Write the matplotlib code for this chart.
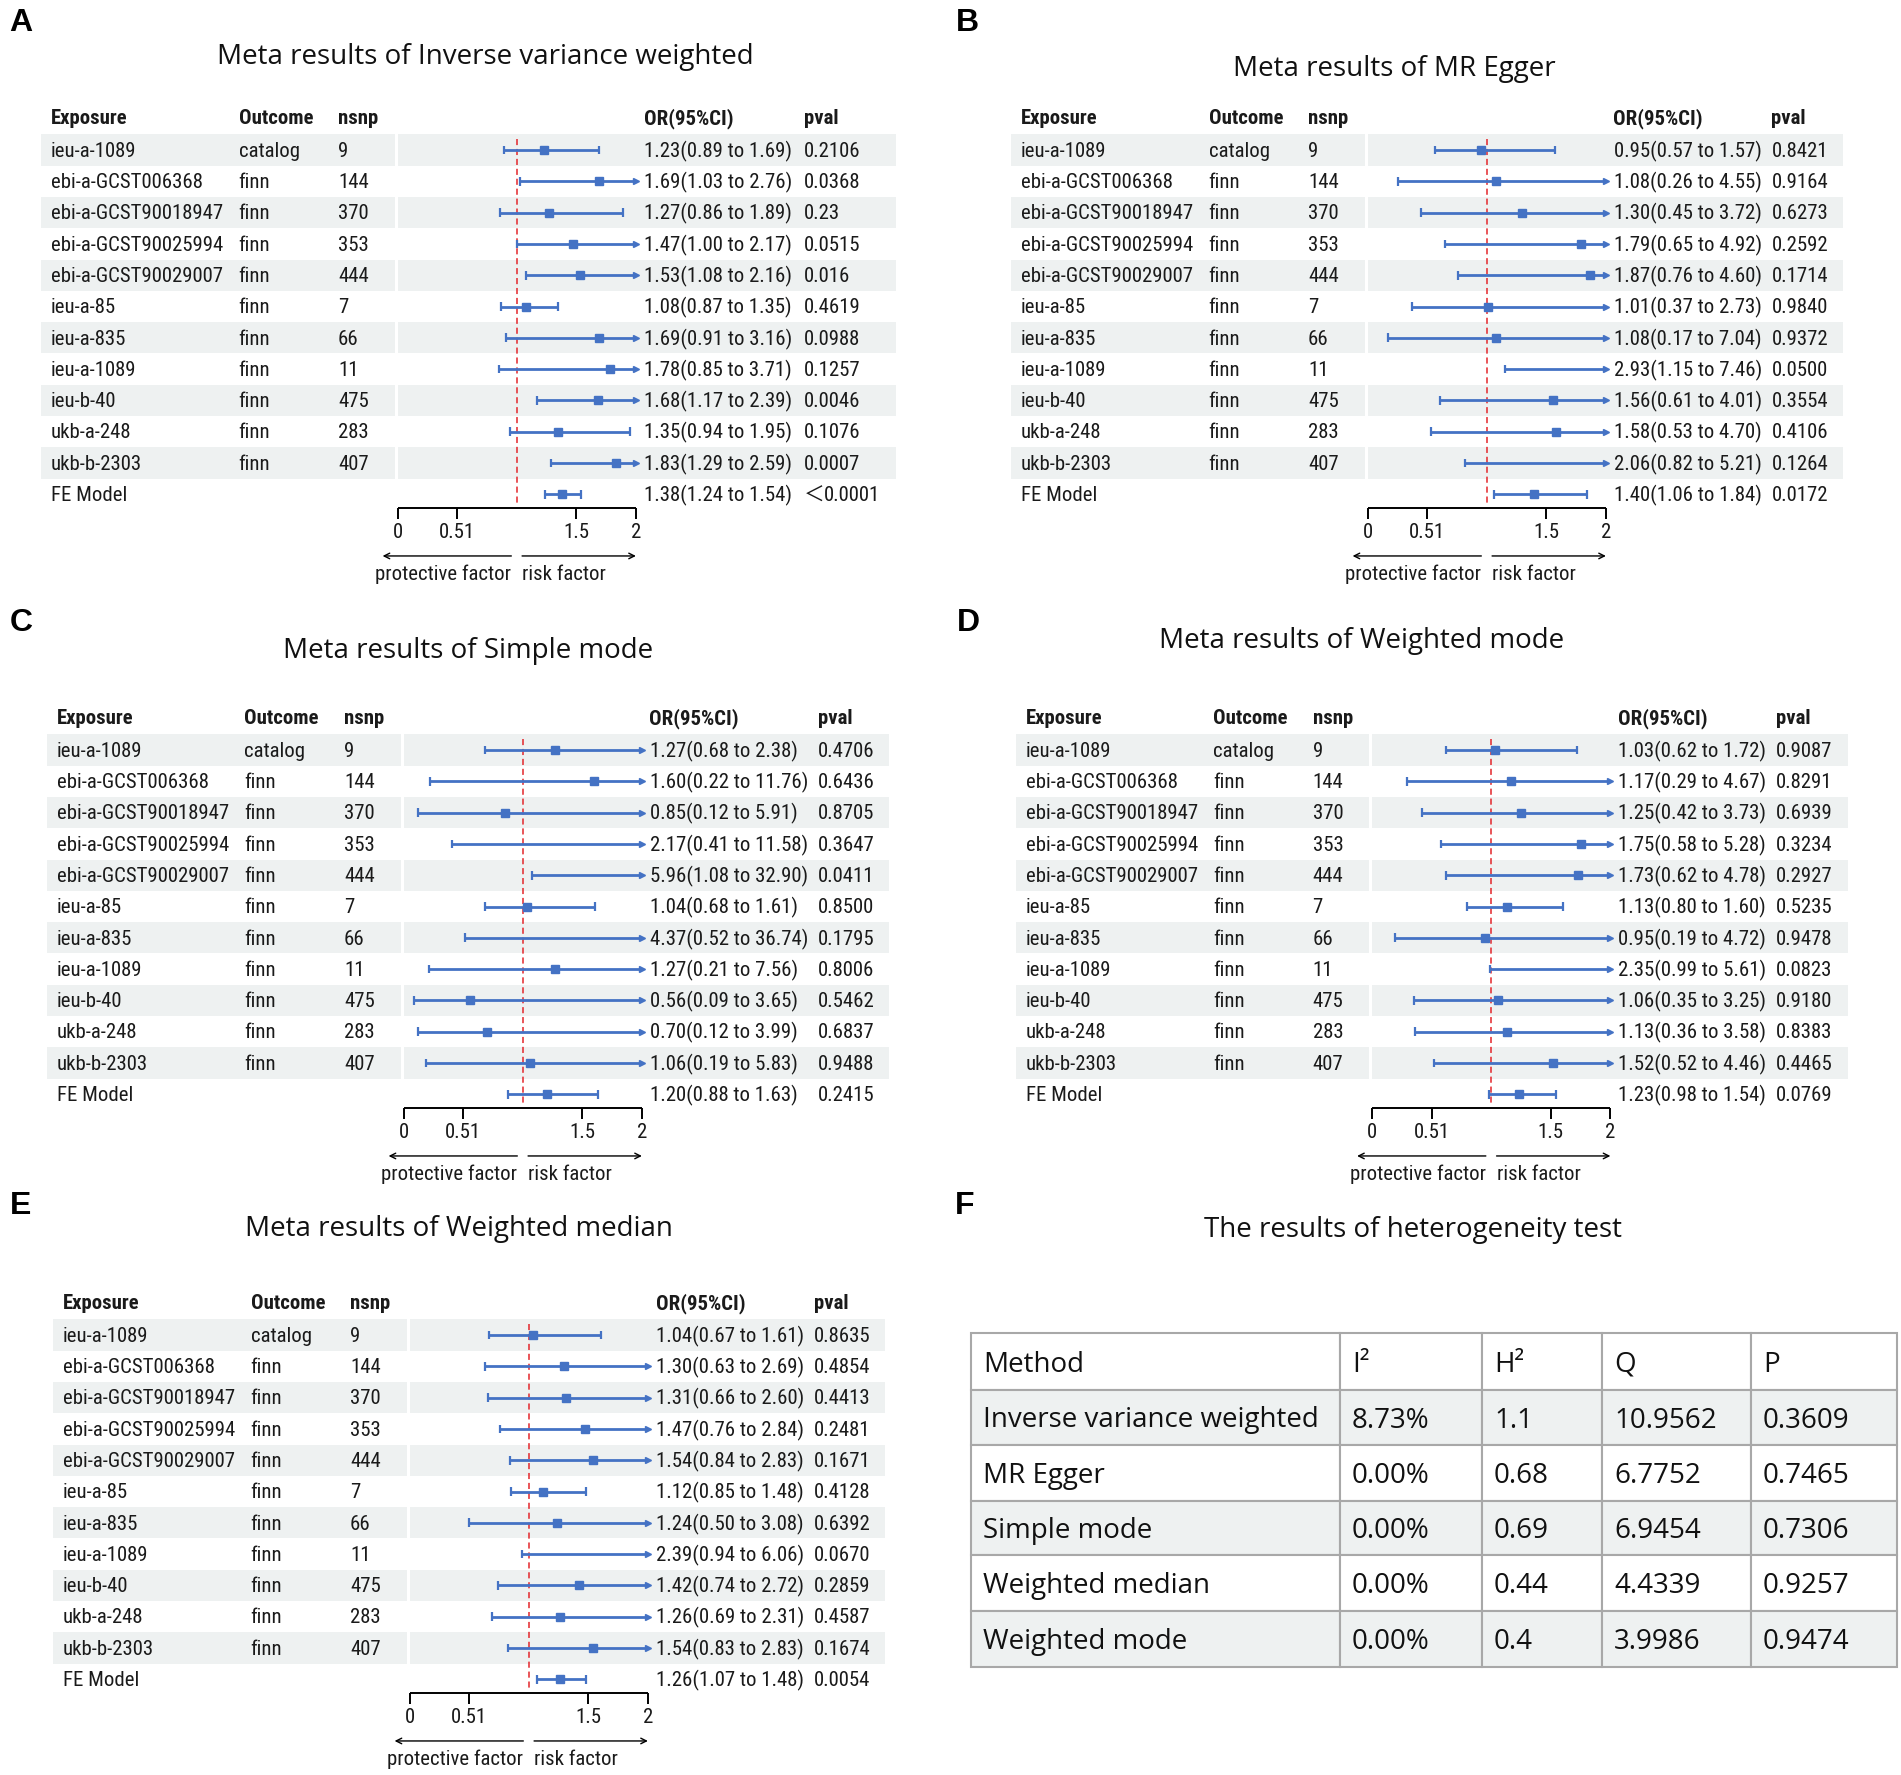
import os
import numpy as np
import matplotlib
matplotlib.use('Agg')
import matplotlib.pyplot as plt
from matplotlib import font_manager as fm
from matplotlib.font_manager import FontProperties
from matplotlib.textpath import TextPath
from matplotlib.patches import Rectangle

W, H = 1901, 1775

# ---- data ----
exposure = ['ieu-a-1089', 'ebi-a-GCST006368', 'ebi-a-GCST90018947', 'ebi-a-GCST90025994',
            'ebi-a-GCST90029007', 'ieu-a-85', 'ieu-a-835', 'ieu-a-1089', 'ieu-b-40',
            'ukb-a-248', 'ukb-b-2303', 'FE Model']
outcome = ['catalog'] + ['finn'] * 10 + ['']
nsnp = ['9', '144', '370', '353', '444', '7', '66', '11', '475', '283', '407', '']

ivw_or = [1.23, 1.69, 1.27, 1.47, 1.53, 1.08, 1.69, 1.78, 1.68, 1.35, 1.83, 1.38]
ivw_lo = [0.89, 1.03, 0.86, 1.00, 1.08, 0.87, 0.91, 0.85, 1.17, 0.94, 1.29, 1.24]
ivw_hi = [1.69, 2.76, 1.89, 2.17, 2.16, 1.35, 3.16, 3.71, 2.39, 1.95, 2.59, 1.54]
ivw_p = ['0.2106', '0.0368', '0.23', '0.0515', '0.016', '0.4619', '0.0988', '0.1257',
         '0.0046', '0.1076', '0.0007', '＜0.0001']

egger_or = [0.95, 1.08, 1.30, 1.79, 1.87, 1.01, 1.08, 2.93, 1.56, 1.58, 2.06, 1.40]
egger_lo = [0.57, 0.26, 0.45, 0.65, 0.76, 0.37, 0.17, 1.15, 0.61, 0.53, 0.82, 1.06]
egger_hi = [1.57, 4.55, 3.72, 4.92, 4.60, 2.73, 7.04, 7.46, 4.01, 4.70, 5.21, 1.84]
egger_p = ['0.8421', '0.9164', '0.6273', '0.2592', '0.1714', '0.9840', '0.9372', '0.0500',
           '0.3554', '0.4106', '0.1264', '0.0172']

smode_or = [1.27, 1.60, 0.85, 2.17, 5.96, 1.04, 4.37, 1.27, 0.56, 0.70, 1.06, 1.20]
smode_lo = [0.68, 0.22, 0.12, 0.41, 1.08, 0.68, 0.52, 0.21, 0.09, 0.12, 0.19, 0.88]
smode_hi = [2.38, 11.76, 5.91, 11.58, 32.90, 1.61, 36.74, 7.56, 3.65, 3.99, 5.83, 1.63]
smode_p = ['0.4706', '0.6436', '0.8705', '0.3647', '0.0411', '0.8500', '0.1795', '0.8006',
           '0.5462', '0.6837', '0.9488', '0.2415']

wmode_or = [1.03, 1.17, 1.25, 1.75, 1.73, 1.13, 0.95, 2.35, 1.06, 1.13, 1.52, 1.23]
wmode_lo = [0.62, 0.29, 0.42, 0.58, 0.62, 0.80, 0.19, 0.99, 0.35, 0.36, 0.52, 0.98]
wmode_hi = [1.72, 4.67, 3.73, 5.28, 4.78, 1.60, 4.72, 5.61, 3.25, 3.58, 4.46, 1.54]
wmode_p = ['0.9087', '0.8291', '0.6939', '0.3234', '0.2927', '0.5235', '0.9478', '0.0823',
           '0.9180', '0.8383', '0.4465', '0.0769']

wmed_or = [1.04, 1.30, 1.31, 1.47, 1.54, 1.12, 1.24, 2.39, 1.42, 1.26, 1.54, 1.26]
wmed_lo = [0.67, 0.63, 0.66, 0.76, 0.84, 0.85, 0.50, 0.94, 0.74, 0.69, 0.83, 1.07]
wmed_hi = [1.61, 2.69, 2.60, 2.84, 2.83, 1.48, 3.08, 6.06, 2.72, 2.31, 2.83, 1.48]
wmed_p = ['0.8635', '0.4854', '0.4413', '0.2481', '0.1671', '0.4128', '0.6392', '0.0670',
          '0.2859', '0.4587', '0.1674', '0.0054']

het_method = ['Inverse variance weighted', 'MR Egger', 'Simple mode', 'Weighted median', 'Weighted mode']
het_i2 = ['8.73%', '0.00%', '0.00%', '0.00%', '0.00%']
het_h2 = ['1.1', '0.68', '0.69', '0.44', '0.4']
het_q = ['10.9562', '6.7752', '6.9454', '4.4339', '3.9986']
het_p = ['0.3609', '0.7465', '0.7306', '0.9257', '0.9474']
het_header = ['Method', 'I²', 'H²', 'Q', 'P']

# ---- fonts: look for a narrow face for the forest tables ----
files = {os.path.basename(f.fname).lower(): f.fname for f in fm.fontManager.ttflist}


def pick(cands):
    for c in cands:
        if c.lower() in files:
            return files[c.lower()]
    return None


reg = pick(['LiberationSansNarrow-Regular.ttf', 'arialn.ttf', 'ArialNarrow.ttf',
            'NotoSans-Condensed.ttf', 'RobotoCondensed-Regular.ttf', 'DejaVuSansCondensed.ttf'])
bld = pick(['LiberationSansNarrow-Bold.ttf', 'arialnb.ttf', 'ArialNarrow-Bold.ttf',
            'NotoSans-CondensedBold.ttf', 'RobotoCondensed-Bold.ttf', 'DejaVuSansCondensed-Bold.ttf'])
fp_reg = FontProperties(fname=reg) if reg else FontProperties(family='Liberation Sans')
fp_bld = FontProperties(fname=bld) if bld else FontProperties(family='Liberation Sans', weight='bold')

# size so that the longest exposure label is ~171 px wide
w10 = TextPath((0, 0), 'ebi-a-GCST90018947', size=10, prop=fp_reg).get_extents().width
FS = min(15.5, 10 * (171 * 0.72) / w10)
fp_reg = fp_reg.copy()
fp_reg.set_size(FS)
fp_bld = fp_bld.copy()
fp_bld.set_size(FS)

names = {f.name for f in fm.fontManager.ttflist}
TFONT = 'Open Sans' if 'Open Sans' in names else 'DejaVu Sans'
CJK = ['Noto Sans CJK SC', 'DejaVu Sans']
BLUE = '#4472c4'
RED = '#e3262b'
SHADE = '#eef1f1'
TXT = '#1a1a1a'

fig = plt.figure(figsize=(W / 100, H / 100), dpi=100)
bg = fig.add_axes([0, 0, 1, 1])
bg.set_xlim(0, W)
bg.set_ylim(H, 0)
bg.axis('off')

S = 119.2       # px per OR unit
Z = 356.5       # offset of OR = 0 from the panel's left edge
RH = 31.3       # px per row
DY = 0.04       # small downward nudge for table text


def forest(x0, hy, width, pv_off, orv, lo, hi, pv):
    row0 = hy + 33
    ytop, ybot = -2.0, 14.2
    top_px = row0 + ytop * RH
    h_px = (ybot - ytop) * RH
    ax = fig.add_axes([x0 / W, 1 - (top_px + h_px) / H, width / W, h_px / H])
    ax.set_xlim(-Z / S, (width - Z) / S)
    ax.set_ylim(ybot, ytop)
    ax.axis('off')

    def ox(off):
        return (off - Z) / S

    orv, lo, hi = np.array(orv), np.array(lo), np.array(hi)
    y = np.arange(len(orv))

    for i in range(0, 11, 2):
        ax.add_patch(Rectangle((ox(0), i - 0.5), ox(353.5) - ox(0), 1, fc=SHADE, ec='none', zorder=0))
        ax.add_patch(Rectangle((0, i - 0.5), ox(width), 1, fc=SHADE, ec='none', zorder=0))

    ci_txt = [f'{a:.2f}({b:.2f} to {c:.2f})' for a, b, c in zip(orv, lo, hi)]
    cols = [(ox(10), 'Exposure', exposure), (ox(197.5), 'Outcome', outcome),
            (ox(297), 'nsnp', nsnp), (ox(602.5), 'OR(95%CI)', ci_txt), (ox(pv_off), 'pval', pv)]
    for cx, head, vals in cols:
        ax.text(cx, -1.05 + DY, head, fontproperties=fp_bld, ha='left', va='center', color=TXT)
        for yi, v in zip(y, vals):
            if v.startswith('＜'):
                ax.text(cx, yi + DY, '＜', family=CJK, fontsize=FS, ha='left', va='center', color=TXT)
                ax.text(cx + 20 / S, yi + DY, v[1:], fontproperties=fp_reg, ha='left', va='center', color=TXT)
            else:
                ax.text(cx, yi + DY, v, fontproperties=fp_reg, ha='left', va='center', color=TXT)

    ax.vlines(1, -0.35, 11.3, colors=RED, linestyles=(0, (4, 2.5)), lw=1.1, zorder=2)

    a = np.clip(lo, 0, 2)
    b = np.clip(hi, 0, 2)
    ax.hlines(y, a, b, colors=BLUE, lw=2.0, zorder=3)
    ax.vlines(a, y - 0.14, y + 0.14, colors=BLUE, lw=1.6, zorder=3)
    cap = hi <= 2
    ax.vlines(b[cap], y[cap] - 0.14, y[cap] + 0.14, colors=BLUE, lw=1.6, zorder=3)
    ax.plot(b[~cap], y[~cap], marker='>', ls='none', ms=5, color=BLUE, zorder=3)
    ins = orv <= 2
    ax.plot(orv[ins], y[ins], marker='s', ls='none', ms=5.2, color=BLUE, zorder=4)

    ticks = [0, 0.5, 1.5, 2]
    ax.hlines(11.45, 0, 2, colors='black', lw=1.4)
    ax.vlines(ticks, 11.45, 11.8, colors='black', lw=1.4)
    for t, lab in zip(ticks, ['0', '0.51', '1.5', '2']):
        ax.text(t, 12.22, lab, fontproperties=fp_reg, ha='center', va='center', color=TXT)
    ax.annotate('', xy=(-0.125, 12.97), xytext=(0.955, 12.97),
                arrowprops=dict(arrowstyle='->', lw=1.0, color='black', shrinkA=0, shrinkB=0))
    ax.annotate('', xy=(2.0, 12.97), xytext=(1.045, 12.97),
                arrowprops=dict(arrowstyle='->', lw=1.0, color='black', shrinkA=0, shrinkB=0))
    ax.text(0.955, 13.56, 'protective factor', fontproperties=fp_reg, ha='right', va='center', color=TXT)
    ax.text(1.045, 13.56, 'risk factor', fontproperties=fp_reg, ha='left', va='center', color=TXT)


forest(41, 117, 855, 763, ivw_or, ivw_lo, ivw_hi, ivw_p)
forest(1011, 117, 832, 760.5, egger_or, egger_lo, egger_hi, egger_p)
forest(47, 717, 842, 771, smode_or, smode_lo, smode_hi, smode_p)
forest(1015.5, 717, 832, 760.5, wmode_or, wmode_lo, wmode_hi, wmode_p)
forest(53, 1302, 832, 761, wmed_or, wmed_lo, wmed_hi, wmed_p)

# panel letters and titles
letters = [('A', 21, 23), ('B', 967, 23), ('C', 21, 623), ('D', 968, 623), ('E', 21, 1206), ('F', 965, 1206)]
for lab, lx, ly in letters:
    bg.text(lx, ly, lab, fontsize=23, fontweight='bold', family='Liberation Sans', ha='center', va='center')

titles = [('Meta results of Inverse variance weighted', 485, 57),
          ('Meta results of MR Egger', 1394, 69),
          ('Meta results of Simple mode', 468, 651),
          ('Meta results of Weighted mode', 1362, 641),
          ('Meta results of Weighted median', 459, 1229),
          ('The results of heterogeneity test', 1413, 1230)]
for t, tx, ty in titles:
    bg.text(tx, ty, t, fontsize=20, family=TFONT, ha='center', va='center', color='#111111')

# heterogeneity table
col_edges = [971, 1340, 1482, 1602, 1751, 1897]
row_edges = [1333, 1390, 1445, 1501, 1555, 1611, 1667]
rows = [het_header] + [list(r) for r in zip(het_method, het_i2, het_h2, het_q, het_p)]
for r, vals in enumerate(rows):
    fc = SHADE if r % 2 == 1 else 'white'
    for c, v in enumerate(vals):
        x0, x1 = col_edges[c], col_edges[c + 1]
        y0, y1 = row_edges[r], row_edges[r + 1]
        bg.add_patch(Rectangle((x0, y0), x1 - x0, y1 - y0, fc=fc, ec='#a8a8a8', lw=1.5))
        bg.text(x0 + 12, (y0 + y1) / 2 + 3, v, fontsize=20, family=TFONT, ha='left', va='center', color='#111111')

fig.savefig('out.png', dpi=100)
